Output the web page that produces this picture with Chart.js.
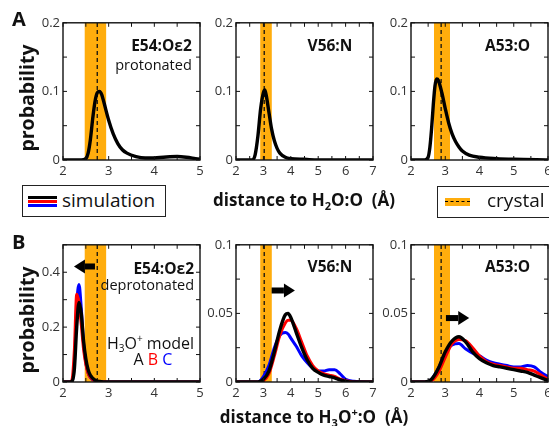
<!DOCTYPE html>
<html lang="en">
<head>
<meta charset="UTF-8">
<title>Distance distributions</title>
<script src="https://cdn.jsdelivr.net/npm/chart.js@4.4.1/dist/chart.umd.min.js"></script>
<style>
    body { margin: 0; background: #fff; font-family: "Open Sans", sans-serif; color: #111; }
    #fig { position: relative; width: 549px; height: 426px; overflow: hidden; background: #fff; }
    #fig canvas { position: absolute; }
    .lbl { position: absolute; white-space: nowrap; line-height: 1; }
    .bold { font-weight: 700; }
    .rot { transform: translate(-50%, -50%) rotate(-90deg); }
    .box { position: absolute; border: 1.5px solid #222; box-sizing: border-box; background: #fff; }
    .swatch { position: absolute; height: 2.6px; }
    sub, sup { font-size: 0.65em; line-height: 0; }
</style>
</head>
<body>
<div id="fig">
    <canvas id="a1"></canvas>
    <canvas id="a2"></canvas>
    <canvas id="a3"></canvas>
    <canvas id="b1"></canvas>
    <canvas id="b2"></canvas>
    <canvas id="b3"></canvas>

    <div class="lbl bold" style="left:12px; top:9px; font-size:20px;">A</div>
    <div class="lbl bold" style="left:12px; top:232px; font-size:20px;">B</div>
    <div class="lbl bold rot" style="left:27px; top:98px; font-size:19.5px;">probability</div>
    <div class="lbl bold rot" style="left:27px; top:320px; font-size:19.5px;">probability</div>

    <div class="box" style="left:22px; top:185px; width:144px; height:32px;">
        <div class="swatch" style="left:5px; top:10px; width:29px; background:#000;"></div>
        <div class="swatch" style="left:5px; top:14px; width:29px; background:#f00;"></div>
        <div class="swatch" style="left:5px; top:18px; width:29px; background:#00f;"></div>
        <div class="lbl" style="left:39px; top:5px; font-size:19px;">simulation</div>
    </div>
    <div class="lbl bold" style="left:304px; top:191px; font-size:17px; transform:translateX(-50%);">distance to H<sub>2</sub>O:O&nbsp;&nbsp;(Å)</div>
    <div class="box" style="left:437px; top:186px; width:130px; height:32px;">
        <div style="position:absolute; left:7px; top:11px; width:25px; height:8px; background:#FFAD0D;"></div>
        <div style="position:absolute; left:7px; top:14px; width:25px; border-top:1.5px dashed #000;"></div>
        <div class="lbl" style="left:49px; top:4px; font-size:19px;">crystal</div>
    </div>
    <div class="lbl bold" style="left:314px; top:408px; font-size:17px; transform:translateX(-50%);">distance to H<sub>3</sub>O<sup>+</sup>:O&nbsp;&nbsp;(Å)</div>
</div>
<script>
    // ---- data ----
    const xTicksA1 = [2, 3, 4, 5];
    const xTicksA2 = [2, 3, 4, 5, 6, 7];
    const xTicksA3 = [2, 3, 4, 5, 6];
    const yTicksA = [0, 0.1, 0.2];
    const yTicksB1 = [0, 0.2, 0.4];
    const yTicksB = [0, 0.05, 0.1];

    // crystal distance band [low, high] and dashed crystal value
    const crystalE54 = [2.47, 2.95, 2.75];
    const crystalV56 = [2.88, 3.31, 3.03];
    const crystalA53 = [2.67, 3.14, 2.88];

    // A: water, E54 protonated
    const a1X = [2.0, 2.4, 2.5, 2.55, 2.6, 2.65, 2.7, 2.75, 2.8, 2.85, 2.9, 3.0, 3.1, 3.2, 3.3, 3.4, 3.6, 3.8, 4.0, 4.2, 4.5, 4.7, 4.9, 5.0];
    const a1Y = [0, 0, 0.002, 0.01, 0.03, 0.06, 0.085, 0.098, 0.1, 0.095, 0.083, 0.058, 0.038, 0.024, 0.015, 0.01, 0.005, 0.003, 0.003, 0.004, 0.005, 0.004, 0.002, 0.001];
    const a2X = [2, 2.6, 2.7, 2.8, 2.9, 3.0, 3.05, 3.1, 3.2, 3.3, 3.4, 3.5, 3.6, 3.8, 4.0, 4.5, 5, 7];
    const a2Y = [0, 0, 0.008, 0.035, 0.075, 0.098, 0.102, 0.095, 0.07, 0.045, 0.028, 0.017, 0.01, 0.004, 0.002, 0.001, 0, 0];
    const a3X = [2, 2.4, 2.5, 2.55, 2.6, 2.65, 2.7, 2.75, 2.8, 2.9, 3.0, 3.1, 3.2, 3.3, 3.4, 3.5, 3.7, 4.0, 4.5, 5, 6];
    const a3Y = [0, 0, 0.004, 0.018, 0.045, 0.08, 0.108, 0.118, 0.116, 0.098, 0.075, 0.054, 0.038, 0.027, 0.019, 0.013, 0.007, 0.004, 0.002, 0.001, 0];

    // B: hydronium, models A (black), B (red), C (blue)
    const b1X = [2, 2.15, 2.2, 2.25, 2.3, 2.35, 2.4, 2.45, 2.5, 2.55, 2.6, 2.7, 2.8, 3.0, 5.0];
    const b1ModelA = [0, 0, 0.003, 0.05, 0.2, 0.29, 0.25, 0.15, 0.085, 0.045, 0.024, 0.007, 0.002, 0, 0];
    const b1ModelB = [0, 0, 0.01, 0.12, 0.32, 0.29, 0.21, 0.12, 0.065, 0.033, 0.017, 0.005, 0.001, 0, 0];
    const b1ModelC = [0, 0, 0.004, 0.07, 0.28, 0.355, 0.27, 0.14, 0.07, 0.033, 0.016, 0.004, 0.001, 0, 0];

    const b2X = [2, 2.8, 3.0, 3.2, 3.4, 3.6, 3.8, 3.9, 4.0, 4.2, 4.4, 4.6, 4.8, 5.0, 5.2, 5.4, 5.6, 5.8, 6.0, 6.3, 7];
    const b2ModelA = [0, 0, 0.002, 0.008, 0.022, 0.038, 0.049, 0.05, 0.047, 0.036, 0.025, 0.016, 0.01, 0.007, 0.005, 0.004, 0.003, 0.0015, 0.0005, 0, 0];
    const b2ModelB = [0, 0, 0.001, 0.006, 0.019, 0.034, 0.043, 0.045, 0.045, 0.039, 0.029, 0.019, 0.012, 0.008, 0.006, 0.005, 0.004, 0.002, 0.001, 0, 0];
    const b2ModelC = [0, 0, 0.004, 0.012, 0.025, 0.034, 0.036, 0.035, 0.032, 0.026, 0.019, 0.014, 0.01, 0.008, 0.008, 0.009, 0.009, 0.006, 0.002, 0.0005, 0];

    const b3X = [2, 2.4, 2.6, 2.8, 3.0, 3.2, 3.4, 3.6, 3.8, 4.0, 4.2, 4.4, 4.6, 4.8, 5.0, 5.2, 5.4, 5.6, 5.8, 6.0];
    const b3ModelA = [0, 0, 0.002, 0.01, 0.022, 0.03, 0.033, 0.029, 0.022, 0.017, 0.014, 0.012, 0.011, 0.01, 0.009, 0.008, 0.007, 0.005, 0.003, 0.001];
    const b3ModelB = [0, 0, 0.001, 0.007, 0.018, 0.028, 0.031, 0.03, 0.025, 0.019, 0.015, 0.013, 0.012, 0.011, 0.01, 0.01, 0.009, 0.008, 0.005, 0.002];
    const b3ModelC = [0, 0, 0.002, 0.01, 0.021, 0.027, 0.028, 0.024, 0.021, 0.019, 0.016, 0.014, 0.013, 0.012, 0.011, 0.011, 0.012, 0.011, 0.007, 0.004];

    const ORANGE = '#FFAD0D';
    const PLOT_W = 137, PLOT_H = 138;
    const PAD_L = 44, PAD_T = 10, PAD_R = 10, PAD_B = 24;

    // box with inward ticks on all four sides
    const framePlugin = {
        id: 'frame',
        afterDatasetsDraw(chart, args, opts) {
            const { ctx, chartArea: a, scales: { x, y } } = chart;
            ctx.save();
            ctx.strokeStyle = '#111';
            ctx.lineWidth = 1;
            ctx.beginPath();
            for (let v = x.min; v <= x.max + 1e-9; v += opts.xStep) {
                const px = x.getPixelForValue(v);
                ctx.moveTo(px, a.bottom); ctx.lineTo(px, a.bottom - 4);
                ctx.moveTo(px, a.top); ctx.lineTo(px, a.top + 4);
            }
            for (let v = y.min; v <= y.max + 1e-9; v += opts.yStep) {
                const py = y.getPixelForValue(v);
                ctx.moveTo(a.left, py); ctx.lineTo(a.left + 4, py);
                ctx.moveTo(a.right, py); ctx.lineTo(a.right - 4, py);
            }
            ctx.stroke();
            ctx.lineWidth = 1.4;
            ctx.strokeRect(a.left, a.top, a.right - a.left, a.bottom - a.top);
            ctx.restore();
        }
    };

    // text labels and arrows placed in data coordinates
    const notesPlugin = {
        id: 'notes',
        afterDatasetsDraw(chart, args, opts) {
            const { ctx, scales: { x, y } } = chart;
            ctx.save();
            (opts.arrows || []).forEach(ar => {
                const x0 = x.getPixelForValue(ar.from), x1 = x.getPixelForValue(ar.to);
                const py = y.getPixelForValue(ar.y);
                const dir = Math.sign(x1 - x0);
                const headLen = 11, headHalf = 7;
                ctx.fillStyle = '#000';
                ctx.fillRect(Math.min(x0, x1 - dir * headLen), py - 3, Math.abs(x1 - dir * headLen - x0), 6);
                ctx.beginPath();
                ctx.moveTo(x1, py);
                ctx.lineTo(x1 - dir * headLen, py - headHalf);
                ctx.lineTo(x1 - dir * headLen, py + headHalf);
                ctx.closePath();
                ctx.fill();
            });
            ctx.textBaseline = 'alphabetic';
            (opts.texts || []).forEach(t => {
                const size = t.size || 14;
                const weight = t.bold ? '700 ' : '';
                const parts = t.parts || [{ t: t.text }];
                const fontFor = p => weight + ((p.sub || p.sup) ? Math.round(size * 0.65) : size) + 'px "Open Sans"';
                let total = 0;
                parts.forEach(p => { ctx.font = fontFor(p); p.w = ctx.measureText(p.t).width; total += p.w; });
                let px = x.getPixelForValue(t.x);
                if (t.align === 'right') px -= total;
                else if (t.align === 'center') px -= total / 2;
                const py = y.getPixelForValue(t.y);
                parts.forEach(p => {
                    ctx.font = fontFor(p);
                    ctx.fillStyle = p.c || '#111';
                    const dy = p.sub ? size * 0.22 : (p.sup ? -size * 0.4 : 0);
                    ctx.fillText(p.t, px, py + dy);
                    px += p.w;
                });
            });
            ctx.restore();
        }
    };

    function curve(xs, ys, color, width, order) {
        return {
            data: xs.map((v, i) => ({ x: v, y: ys[i] })),
            borderColor: color, borderWidth: width, pointRadius: 0,
            cubicInterpolationMode: 'monotone', fill: false, order: order
        };
    }

    function makePanel(id, left, top, cfg) {
        const canvas = document.getElementById(id);
        const w = PLOT_W + PAD_L + PAD_R, h = PLOT_H + PAD_T + PAD_B;
        canvas.width = w; canvas.height = h;
        canvas.style.left = (left - PAD_L) + 'px';
        canvas.style.top = (top - PAD_T) + 'px';
        canvas.style.width = w + 'px'; canvas.style.height = h + 'px';

        const [bandLo, bandHi, crystal] = cfg.crystal;
        const datasets = cfg.curves.slice();
        datasets.push({
            data: [{ x: crystal, y: 0 }, { x: crystal, y: cfg.yMax }],
            borderColor: '#111', borderWidth: 1.3, borderDash: [4, 3], pointRadius: 0, fill: false, order: 15
        });
        datasets.push({
            data: [{ x: bandLo, y: cfg.yMax }, { x: bandHi, y: cfg.yMax }],
            borderWidth: 0, borderColor: ORANGE, backgroundColor: ORANGE, pointRadius: 0, fill: 'origin', order: 20
        });

        const tickFont = { family: '"Open Sans"', size: 13 };
        new Chart(canvas, {
            type: 'line',
            data: { datasets: datasets },
            options: {
                responsive: false, animation: false, events: [],
                layout: { padding: { top: PAD_T, right: PAD_R, left: 0, bottom: 0 } },
                plugins: {
                    legend: { display: false }, tooltip: { enabled: false },
                    frame: { xStep: 0.5, yStep: cfg.yMinor },
                    notes: { texts: cfg.texts || [], arrows: cfg.arrows || [] }
                },
                scales: {
                    x: {
                        type: 'linear', min: cfg.xTicks[0], max: cfg.xTicks[cfg.xTicks.length - 1],
                        afterBuildTicks: s => { s.ticks = cfg.xTicks.map(v => ({ value: v })); },
                        afterFit: s => { s.height = PAD_B; },
                        grid: { display: false, drawTicks: false }, border: { display: false },
                        ticks: { font: tickFont, color: '#333', padding: 3, maxRotation: 0, autoSkip: false }
                    },
                    y: {
                        min: cfg.yTicks[0], max: cfg.yMax,
                        afterBuildTicks: s => { s.ticks = cfg.yTicks.map(v => ({ value: v })); },
                        afterFit: s => { s.width = PAD_L; },
                        grid: { display: false, drawTicks: false }, border: { display: false },
                        ticks: { font: tickFont, color: '#333', padding: 3, callback: v => String(v) }
                    }
                }
            },
            plugins: [framePlugin, notesPlugin]
        });
    }

    makePanel('a1', 63, 22, {
        xTicks: xTicksA1, yTicks: yTicksA, yMax: 0.2, yMinor: 0.05, crystal: crystalE54,
        curves: [curve(a1X, a1Y, '#000', 3.4, 1)],
        texts: [
            { text: 'E54:Oε2', x: 4.82, y: 0.159, align: 'right', bold: true, size: 15.5 },
            { text: 'protonated', x: 4.82, y: 0.131, align: 'right', size: 14.5 }
        ]
    });
    makePanel('a2', 236, 22, {
        xTicks: xTicksA2, yTicks: yTicksA, yMax: 0.2, yMinor: 0.05, crystal: crystalV56,
        curves: [curve(a2X, a2Y, '#000', 3.4, 1)],
        texts: [{ text: 'V56:N', x: 5.43, y: 0.159, align: 'center', bold: true, size: 15.5 }]
    });
    makePanel('a3', 411, 22, {
        xTicks: xTicksA3, yTicks: yTicksA, yMax: 0.2, yMinor: 0.05, crystal: crystalA53,
        curves: [curve(a3X, a3Y, '#000', 3.4, 1)],
        texts: [{ text: 'A53:O', x: 4.82, y: 0.159, align: 'center', bold: true, size: 15.5 }]
    });
    makePanel('b1', 63, 244, {
        xTicks: xTicksA1, yTicks: yTicksB1, yMax: 0.5, yMinor: 0.1, crystal: crystalE54,
        curves: [
            curve(b1X, b1ModelA, '#000', 3.4, 1),
            curve(b1X, b1ModelB, '#f00', 3, 2),
            curve(b1X, b1ModelC, '#00f', 3, 3)
        ],
        texts: [
            { text: 'E54:Oε2', x: 4.87, y: 0.395, align: 'right', bold: true, size: 15.5 },
            { text: 'deprotonated', x: 4.87, y: 0.336, align: 'right', size: 14.5 },
            { parts: [{ t: 'H' }, { t: '3', sub: true }, { t: 'O' }, { t: '+', sup: true }, { t: ' model' }], x: 4.87, y: 0.122, align: 'right', size: 16 },
            { parts: [{ t: 'A', c: '#111' }, { t: ' B', c: '#f00' }, { t: ' C', c: '#00f' }], x: 3.97, y: 0.062, align: 'center', size: 16 }
        ],
        arrows: [{ from: 2.70, to: 2.24, y: 0.421 }]
    });
    makePanel('b2', 236, 244, {
        xTicks: xTicksA2, yTicks: yTicksB, yMax: 0.1, yMinor: 0.025, crystal: crystalV56,
        curves: [
            curve(b2X, b2ModelA, '#000', 3.4, 1),
            curve(b2X, b2ModelB, '#f00', 3, 2),
            curve(b2X, b2ModelC, '#00f', 3, 3)
        ],
        texts: [{ text: 'V56:N', x: 5.43, y: 0.08, align: 'center', bold: true, size: 15.5 }],
        arrows: [{ from: 3.30, to: 4.15, y: 0.0667 }]
    });
    makePanel('b3', 411, 244, {
        xTicks: xTicksA3, yTicks: yTicksB, yMax: 0.1, yMinor: 0.025, crystal: crystalA53,
        curves: [
            curve(b3X, b3ModelA, '#000', 3.4, 1),
            curve(b3X, b3ModelB, '#f00', 3, 2),
            curve(b3X, b3ModelC, '#00f', 3, 3)
        ],
        texts: [{ text: 'A53:O', x: 4.82, y: 0.08, align: 'center', bold: true, size: 15.5 }],
        arrows: [{ from: 3.02, to: 3.70, y: 0.0466 }]
    });
</script>
</body>
</html>
